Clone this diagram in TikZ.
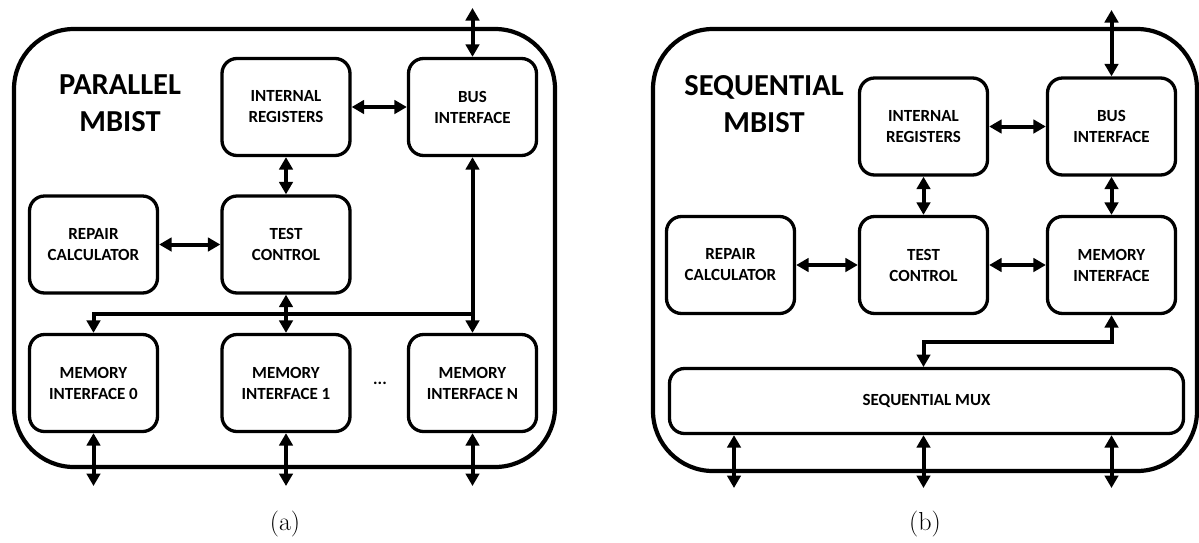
\documentclass[tikz,border=0pt]{standalone}
\usepackage{fontspec}
\usetikzlibrary{arrows.meta}
\newfontfamily\blockfont{Carlito}
\begin{document}
\begin{tikzpicture}[x=1pt,y=-1pt,
  frame/.style={draw,line width=4.2pt,rounded corners=60pt},
  block/.style={draw,line width=3.3pt,rounded corners=15pt,minimum width=128pt,
    minimum height=97pt,align=center,inner sep=0pt,
    font=\blockfont\bfseries\fontsize{17}{21}\selectfont},
  title/.style={align=center,font=\blockfont\bfseries\fontsize{30.5}{37}\selectfont},
  caption/.style={font=\fontsize{26}{30}\selectfont},
  tipA/.tip={Triangle[length=12.5pt,width=13.5pt]},
  link/.style={line width=4pt,tipA-tipA},
  bus/.style={line width=4pt}]
\useasboundingbox (0,0) rectangle (1199,542);

% ---------------- (a) parallel ----------------
\draw[frame] (14,29) rectangle (555,467);
\node[title] (tA) at (120,103) {PARALLEL\\MBIST};
\node[block] (irA) at (286,107) {INTERNAL\\REGISTERS};
\node[block] (biA) at (472.5,107) {BUS\\INTERFACE};
\node[block] (rcA) at (93.5,244.5) {REPAIR\\CALCULATOR};
\node[block] (tcA) at (286,244.5) {TEST\\CONTROL};
\node[block] (m0) at (93.5,383) {MEMORY\\INTERFACE 0};
\node[block] (m1) at (286,383) {MEMORY\\INTERFACE 1};
\node[block] (mN) at (472.5,383) {MEMORY\\INTERFACE N};
\node[font=\blockfont\bfseries\fontsize{17}{21}\selectfont] (dots) at (380,383) {...};

\coordinate (extA) at (472.5,8);
\coordinate (busA) at (472.5,314);
\draw[link] (extA) -- (biA.north);
\draw[link] (irA.east) -- (biA.west);
\draw[link] (irA.south) -- (tcA.north);
\draw[link] (rcA.east) -- (tcA.west);
\draw[link] (biA.south) -- (mN.north);
\draw[link] (tcA.south) -- (m1.north);
\draw[bus,-tipA] (busA) -| (m0.north);

\coordinate (o0) at (93.5,486);
\coordinate (o1) at (286,486);
\coordinate (oN) at (472.5,486);
\draw[link] (m0.south) -- (o0);
\draw[link] (m1.south) -- (o1);
\draw[link] (mN.south) -- (oN);
\node[caption] (capA) at (285,524) {(a)};

% ---------------- (b) sequential ----------------
\draw[frame] (653,29) rectangle (1197,471);
\node[title] (tB) at (764,104) {SEQUENTIAL\\MBIST};
\node[block] (irB) at (923.5,126.5) {INTERNAL\\REGISTERS};
\node[block] (biB) at (1111.5,126.5) {BUS\\INTERFACE};
\node[block] (rcB) at (730.5,265) {REPAIR\\CALCULATOR};
\node[block] (tcB) at (923.5,265) {TEST\\CONTROL};
\node[block] (miB) at (1111.5,265) {MEMORY\\INTERFACE};
\node[block,minimum width=514pt,minimum height=65pt] (mux) at (926.5,401) {SEQUENTIAL MUX};

\coordinate (extB) at (1111.5,10);
\draw[link] (extB) -- (biB.north);
\draw[link] (irB.east) -- (biB.west);
\draw[link] (irB.south) -- (tcB.north);
\draw[link] (biB.south) -- (miB.north);
\draw[link] (rcB.east) -- (tcB.west);
\draw[link] (tcB.east) -- (miB.west);
\coordinate (muxIn) at (923.5,367);
\draw[link] (miB.south) -- ++(0,27) -| (muxIn);

\coordinate (p1) at (734,488);
\coordinate (p2) at (923.5,488);
\coordinate (p3) at (1111.5,488);
\draw[link] (mux.south -| p1) -- (p1);
\draw[link] (mux.south -| p2) -- (p2);
\draw[link] (mux.south -| p3) -- (p3);
\node[caption] (capB) at (925,524) {(b)};
\end{tikzpicture}
\end{document}
